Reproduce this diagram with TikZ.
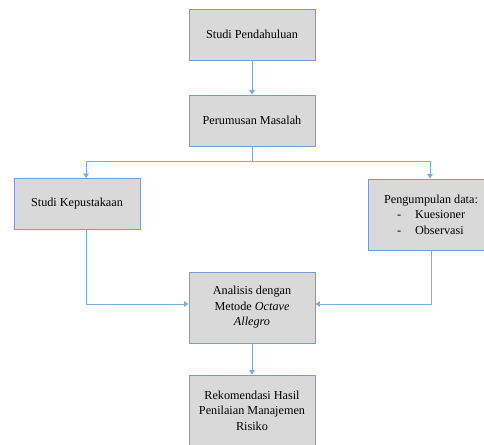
\documentclass[tikz,border=0pt]{standalone}
\usepackage{fontspec}
\setmainfont{Liberation Serif}
\usetikzlibrary{arrows.meta}
\definecolor{boxfill}{HTML}{D9D9D9}
\definecolor{boxline}{HTML}{7A9CC6}
\definecolor{arrline}{HTML}{7AAAE0}
\begin{document}
\begin{tikzpicture}[x=1pt, y=-1pt,
    box/.style={draw=boxline, line width=0.9pt, fill=boxfill, minimum width=126pt,
                inner sep=2pt, align=center, font=\fontsize{12.2}{15.5}\selectfont},
    flow/.style={draw=arrline, line width=1pt, -{Triangle[length=4.5pt,width=5.5pt]}}]
            \useasboundingbox (0,0) rectangle (484,444);
            \clip (0,0) rectangle (484,444);
            \node[box, minimum height=51pt] (pendahuluan) at (252,34.5) {Studi Pendahuluan};
            \node[box, minimum height=51pt] (perumusan) at (252,120.5) {Perumusan Masalah};
            \node[box, minimum height=51pt] (kepustakaan) at (77,204) {Studi Kepustakaan};
            \node[box, minimum height=71pt] (pengumpulan) at (431,214.5) {Pengumpulan data:\\
                \makebox[18pt][l]{-}\makebox[50pt][l]{Kuesioner}\\
                \makebox[18pt][l]{-}\makebox[50pt][l]{Observasi}};
            \node[box, minimum height=71pt] (analisis) at (252,307.5) {Analisis dengan\\Metode \textit{Octave}\\\textit{Allegro}};
            \node[box, minimum height=71pt] (rekomendasi) at (252,410.5) {Rekomendasi Hasil\\Penilaian Manajemen\\Risiko};
            \draw[flow] (pendahuluan) -- (perumusan);
            \draw[flow] (perumusan.south) -- ++(0,15) -| ([xshift=9pt]kepustakaan.north);
            \draw[flow] (perumusan.south) -- ++(0,15) -| ([xshift=-1pt]pengumpulan.north);
            \draw[flow] ([xshift=9pt]kepustakaan.south) |- ([yshift=3.5pt]analisis.west);
            \draw[flow] (pengumpulan.south) |- ([yshift=3.5pt]analisis.east);
            \draw[flow] (analisis) -- (rekomendasi);
        \end{tikzpicture}
\end{document}
